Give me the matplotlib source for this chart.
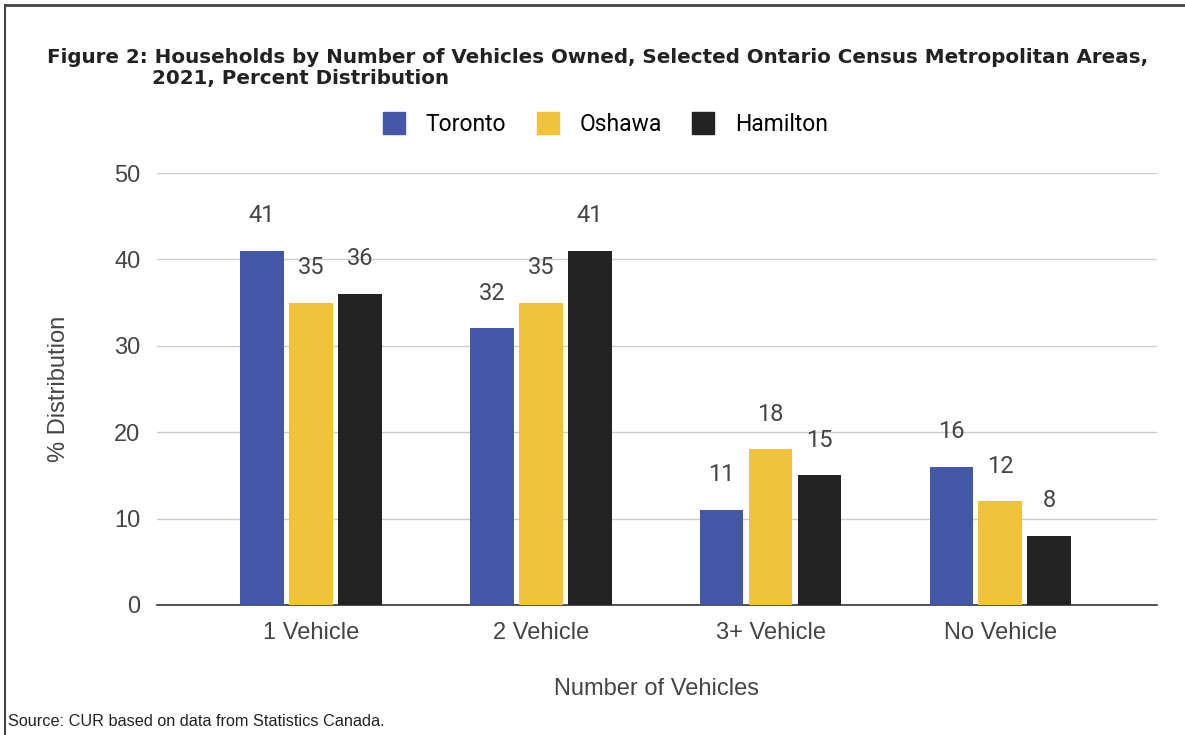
import numpy as np
import matplotlib
matplotlib.use("Agg")
import matplotlib.pyplot as plt
from matplotlib.lines import Line2D

categories = ["1 Vehicle", "2 Vehicle", "3+ Vehicle", "No Vehicle"]
toronto = [41, 32, 11, 16]
oshawa = [35, 35, 18, 12]
hamilton = [36, 41, 15, 8]
series_names = ["Toronto", "Oshawa", "Hamilton"]
colors = ["#4457A7", "#F1C33B", "#232323"]

plt.rcParams["font.family"] = ["Liberation Sans", "DejaVu Sans"]

fig = plt.figure(figsize=(11.85, 7.35), dpi=100)
ax = fig.add_axes([0.1325, 0.177, 0.8435, 0.5876])

x = np.arange(len(categories))
width = 0.19
step = 0.213
for i, (name, vals, c) in enumerate(zip(series_names, [toronto, oshawa, hamilton], colors)):
    pos = x + (i - 1) * step
    bars = ax.bar(pos, vals, width, color=c, label=name, zorder=3)
    for b, v in zip(bars, vals):
        ax.annotate(str(v), (b.get_x() + b.get_width() / 2, v),
                    xytext=(0, 17), textcoords="offset points",
                    ha="center", va="bottom", fontsize=17,
                    family="Roboto", color="#444444")

ax.set_xlim(-0.67, 3.68)
ax.set_ylim(0, 50)
ax.set_yticks([0, 10, 20, 30, 40, 50])
ax.yaxis.grid(True, color="#cccccc", lw=1, zorder=0)
ax.set_axisbelow(True)
for s in ["top", "right", "left"]:
    ax.spines[s].set_visible(False)
ax.spines["bottom"].set_color("#333333")
ax.spines["bottom"].set_linewidth(1.2)
ax.tick_params(axis="both", length=0, labelsize=17, colors="#444444", pad=12)
ax.tick_params(axis="x", pad=12)
ax.set_xticks(x)
ax.set_xticklabels(categories)
ax.set_ylabel("% Distribution", fontsize=17, color="#444444")
ax.yaxis.set_label_coords(-0.087, 0.5)
ax.set_xlabel("Number of Vehicles", fontsize=17, color="#444444")
ax.xaxis.set_label_coords(0.5, -0.17)

handles = [Line2D([], [], marker="s", ls="", markersize=16, color=c) for c in colors]
fig.legend(handles, series_names, loc="center", bbox_to_anchor=(0.506, 0.83),
           ncol=3, frameon=False, prop={"family": "Roboto", "size": 16.5},
           handletextpad=0.4, columnspacing=0.8)

title_font = dict(fontsize=14.3, weight="bold", color="#222222", va="baseline",
                  family=["DejaVu Sans"])
fig.text(0.04, 0.914, "Figure 2: Households by Number of Vehicles Owned, Selected Ontario Census Metropolitan Areas,",
         **title_font)
fig.text(0.128, 0.886, "2021, Percent Distribution", **title_font)

fig.text(0.007, 0.012, "Source: CUR based on data from Statistics Canada.", fontsize=11.7, color="#222222")

fig.add_artist(Line2D([0.004, 1.0], [0.993, 0.993], color="#444444", lw=2, transform=fig.transFigure))
fig.add_artist(Line2D([0.004, 0.004], [0.0, 0.993], color="#444444", lw=1.5, transform=fig.transFigure))

fig.savefig("out.png", dpi=100)
